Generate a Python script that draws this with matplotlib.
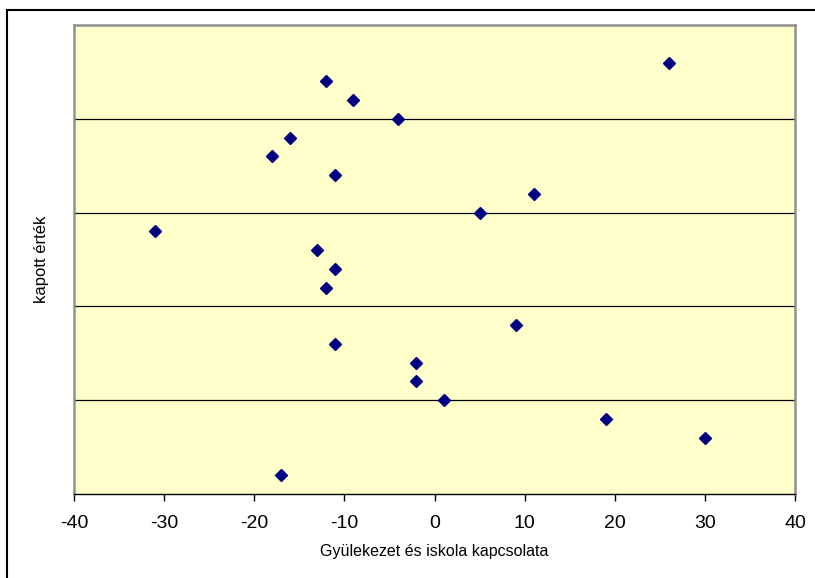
import matplotlib.pyplot as plt
from matplotlib.patches import Rectangle

plt.rcParams['font.family'] = ['Liberation Sans', 'DejaVu Sans']

# scatter data: x = Gyülekezet és iskola kapcsolata, y = kapott érték
x_vals = [26, -12, -9, -4, -16, -18, -11, 11, 5, -31, -13,
          -11, -12, 9, -11, -2, -2, 1, 19, 30, -17]
y_vals = [4.6, 4.4, 4.2, 4.0, 3.8, 3.6, 3.4, 3.2, 3.0, 2.8, 2.6,
          2.4, 2.2, 1.8, 1.6, 1.4, 1.2, 1.0, 0.8, 0.6, 0.2]
x_ticks = [-40, -30, -20, -10, 0, 10, 20, 30, 40]
y_grid = [1, 2, 3, 4]

W, H = 815, 578
fig = plt.figure(figsize=(W / 100, H / 100), dpi=100)

# chart frame (left and top edges visible)
fig.patches.append(Rectangle((7 / W, -0.1), 1.2, (H - 10) / H + 0.1,
                             transform=fig.transFigure, fill=False,
                             edgecolor='black', linewidth=1.5, zorder=0))

ax = fig.add_axes([74 / W, (H - 494) / H, (795 - 74) / W, (494 - 25) / H])
ax.set_facecolor('#FFFFCC')

for y in y_grid:
    ax.axhline(y, color='black', linewidth=0.9, zorder=1)

ax.plot(x_vals, y_vals, linestyle='none', marker='D', markersize=5.8,
        color='#000080', zorder=3)

ax.set_xlim(-40, 40)
ax.set_ylim(0, 5)
ax.set_xticks(x_ticks)
ax.set_xticklabels([str(t) for t in x_ticks], fontsize=14)
ax.set_yticks([])
ax.tick_params(axis='x', direction='out', length=5, width=1, pad=10)

for side in ['left', 'top', 'right']:
    ax.spines[side].set_color('#909090')
    ax.spines[side].set_linewidth(1.8)
ax.spines['bottom'].set_color('black')
ax.spines['bottom'].set_linewidth(1)

ax.set_xlabel('Gyülekezet és iskola kapcsolata', fontsize=11.5, labelpad=9)
ax.set_ylabel('kapott érték', fontsize=12, labelpad=18)

fig.savefig('out.png', dpi=100)
